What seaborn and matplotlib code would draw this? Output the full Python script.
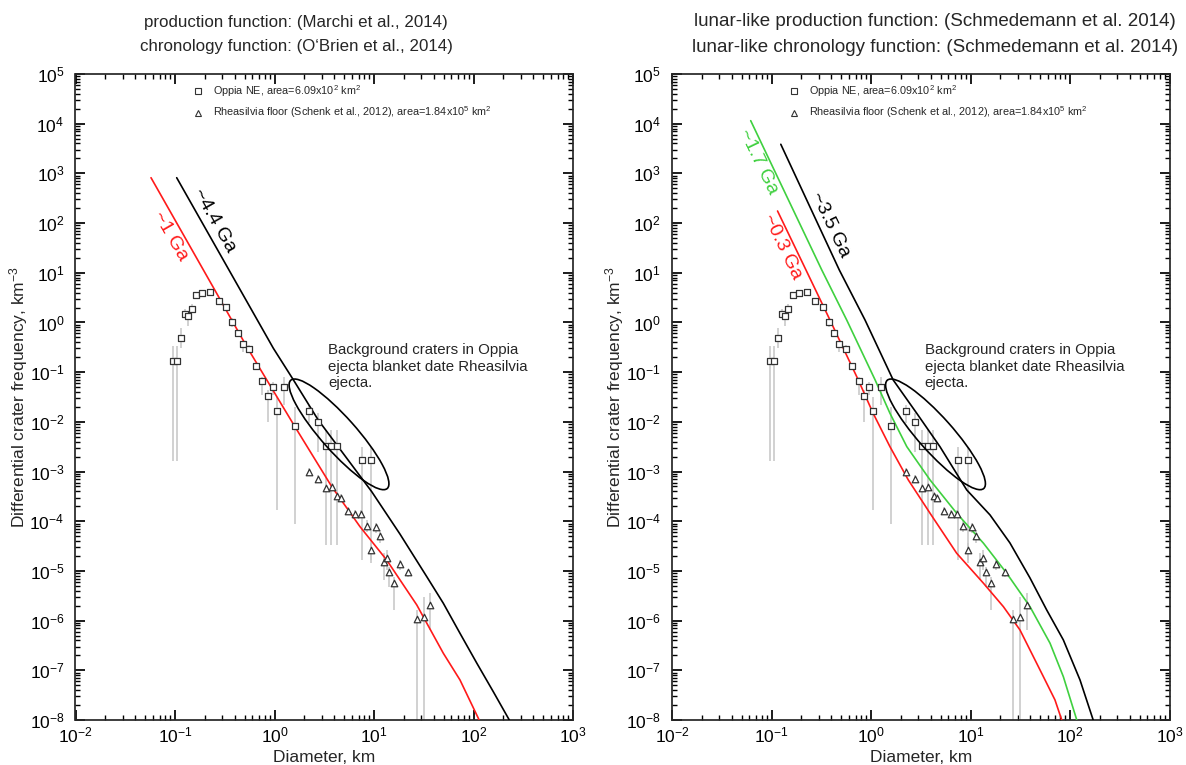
import numpy as np
import matplotlib
matplotlib.use("Agg")
import matplotlib.pyplot as plt
import seaborn as sns
from matplotlib.ticker import NullFormatter, LogFormatterMathtext, FixedLocator
from matplotlib.lines import Line2D
from matplotlib.patches import Ellipse
from matplotlib.transforms import ScaledTranslation

# ---------------- data ----------------
# Oppia NE crater counts (differential frequency, km^-3)
oppia_d = [0.0962, 0.105, 0.116, 0.127, 0.136, 0.147, 0.163, 0.187, 0.225, 0.275,
           0.326, 0.377, 0.427, 0.479, 0.555, 0.647, 0.753, 0.855, 0.955, 1.05,
           1.25, 1.59, 2.24, 2.75, 3.27, 3.70, 4.22, 7.52, 9.40]
oppia_n = [0.166, 0.166, 0.494, 1.50, 1.35, 1.85, 3.57, 3.98, 4.11, 2.71,
           2.05, 1.02, 0.607, 0.369, 0.297, 0.133, 0.0675, 0.0332, 0.0499, 0.0166,
           0.0499, 0.00839, 0.0166, 0.0101, 0.00332, 0.00332, 0.00332, 0.00169, 0.00169]
oppia_hi = [0.336, 0.336, 0.764, 1.85, 1.57, 2.36, 4.11, 4.5, 4.6, 3.0,
            2.3, 1.22, 0.70, 0.43, 0.35, 0.155, 0.081, 0.0438, 0.0644, 0.0321,
            0.0789, 0.0202, 0.0219, 0.0149, 0.00687, 0.00687, 0.00687, 0.00317, 0.00317]
oppia_lo = [0.00166, 0.00166, 0.303, 1.22, 0.851, 1.53, 3.11, 3.5, 3.6, 2.4,
            1.8, 0.82, 0.52, 0.26, 0.25, 0.111, 0.035, 0.0101, 0.0347, 0.000169,
            0.0219, 0.0000871, 0.00938, 0.00251, 0.0000334, 0.0000334, 0.0000334,
            0.0000166, 0.0000166]

# Rheasilvia floor (Schenk et al., 2012)
rhea_d = [2.24, 2.75, 3.27, 3.76, 4.28, 4.62, 5.45, 6.44, 7.40, 8.45, 9.40,
          10.4, 11.4, 12.6, 13.4, 14.3, 15.9, 18.1, 22.0, 26.9, 31.6, 36.6]
rhea_n = [9.68e-4, 7.10e-4, 4.61e-4, 4.97e-4, 3.23e-4, 2.90e-4, 1.63e-4, 1.38e-4,
          1.40e-4, 8.17e-5, 2.65e-5, 7.67e-5, 5.06e-5, 1.50e-5, 1.80e-5, 9.68e-6,
          5.74e-6, 1.38e-5, 9.55e-6, 1.10e-6, 1.20e-6, 2.07e-6]
rhea_hi = [1.16e-3, 8.5e-4, 5.5e-4, 6.0e-4, 3.9e-4, 3.5e-4, 1.95e-4, 1.65e-4,
           1.68e-4, 1.06e-4, 3.61e-5, 9.12e-5, 6.68e-5, 2.27e-5, 2.65e-5, 1.22e-5,
           7.67e-6, 1.66e-5, 1.05e-5, 1.6e-6, 3.0e-6, 3.56e-6]
rhea_lo = [8.1e-4, 5.9e-4, 3.85e-4, 4.1e-4, 2.7e-4, 2.4e-4, 1.36e-4, 1.15e-4,
           1.17e-4, 6.1e-5, 1.43e-5, 5.74e-5, 3.66e-5, 6.59e-6, 1.05e-5, 4.83e-6,
           1.64e-6, 1.05e-5, 7.57e-6, 1e-9, 1e-9, 6.50e-7]

# Model isochrons, left panel (Marchi PF / O'Brien CF)
marchi_1ga_d = [0.0574, 0.262, 0.526, 1.58, 3.76, 7.23, 13.4, 26.9, 49.7, 73.1, 114]
marchi_1ga_n = [818, 3.87, 0.326, 8.39e-3, 4.97e-4, 7.78e-5, 1.66e-5, 2.07e-6,
                2.21e-7, 6.41e-8, 1e-8]
marchi_44ga_d = [0.104, 0.973, 1.55, 2.75, 9.48, 18.2, 33.9, 49.7, 73.1, 108, 158, 229]
marchi_44ga_n = [818, 0.303, 0.0697, 0.0109, 3.94e-4, 5.55e-5, 7.67e-6, 2.24e-6,
                 5.57e-7, 1.39e-7, 3.72e-8, 1e-8]

# Model isochrons, right panel (lunar-like PF / CF)
lunar_03ga_d = [0.115, 0.222, 0.387, 0.745, 1.05, 1.55, 2.37, 3.92, 7.26, 13.5,
                21.4, 31.4, 54.0, 70.6, 82.6]
lunar_03ga_n = [175, 11.4, 1.12, 0.0697, 0.0149, 3.17e-3, 6.78e-4, 1.45e-4, 2.27e-5,
                5.65e-6, 1.91e-6, 6.50e-7, 7.46e-8, 2.54e-8, 1e-8]
lunar_17ga_d = [0.0618, 0.320, 0.570, 1.10, 1.55, 2.29, 3.92, 7.26, 13.5, 23.1,
                39.6, 63.0, 85.7, 117]
lunar_17ga_n = [11500, 11.4, 1.12, 0.0697, 0.0149, 3.17e-3, 6.78e-4, 1.45e-4,
                3.61e-5, 8.99e-6, 1.91e-6, 3.51e-7, 7.46e-8, 1e-8]
lunar_35ga_d = [0.124, 0.480, 0.871, 1.67, 2.88, 4.93, 9.16, 15.7, 24.9, 39.6,
                58.3, 85.7, 126, 171]
lunar_35ga_n = [3850, 11.4, 1.12, 0.0697, 0.0149, 3.17e-3, 4.27e-4, 1.34e-4,
                3.66e-5, 7.23e-6, 1.64e-6, 4.09e-7, 6.41e-8, 1e-8]

x_ticks = [1e-2, 1e-1, 1e0, 1e1, 1e2, 1e3]
y_ticks = [10.0 ** k for k in range(-8, 6)]

titles_left = ["production function: (Marchi et al., 2014)",
               "chronology function: (O\u2018Brien et al., 2014)"]
titles_right = ["lunar-like production function: (Schmedemann et al. 2014)",
                "lunar-like chronology function: (Schmedemann et al. 2014)"]
legend_labels = ["Oppia NE, area=6.09x10$^2$ km$^2$",
                 "Rheasilvia floor (Schenk et al., 2012), area=1.84x10$^5$ km$^2$"]
note_text = "Background craters in Oppia\nejecta blanket date Rheasilvia\nejecta."

# ---------------- style ----------------
sns.set_theme(style="ticks")
plt.rcParams['font.family'] = ['Liberation Sans', 'DejaVu Sans']
plt.rcParams['mathtext.fontset'] = 'custom'
plt.rcParams['mathtext.rm'] = 'Liberation Sans'
plt.rcParams['mathtext.it'] = 'Liberation Sans:italic'
plt.rcParams['mathtext.default'] = 'regular'
plt.rcParams.update({
    'xtick.direction': 'in', 'ytick.direction': 'in',
    'xtick.top': True, 'ytick.right': True,
    'xtick.major.size': 7, 'ytick.major.size': 7,
    'xtick.minor.size': 3.5, 'ytick.minor.size': 3.5,
    'xtick.color': 'black', 'ytick.color': 'black',
    'xtick.labelsize': 12.5, 'ytick.labelsize': 12.5,
    'xtick.major.pad': 4, 'ytick.major.pad': 8,
})

fig = plt.figure(figsize=(11.86, 7.65), dpi=100)
W, H = 1186.0, 765.0
ax_l = fig.add_axes([75.5 / W, 1 - 720 / H, 497.5 / W, 646 / H])
ax_r = fig.add_axes([672 / W, 1 - 720 / H, 497.5 / W, 646 / H])

RED = '#ff1a1a'
GREEN = '#3fd03f'
BAR = '#c9c9c9'

minor_vals = [m * 10.0 ** k for k in range(-9, 6) for m in range(2, 10)]


def build_panel(ax, curves):
    ax.set_xscale('log')
    ax.set_yscale('log')
    sns.scatterplot(x=oppia_d, y=oppia_n, marker='s', s=22, color='white',
                    edgecolor='#333333', linewidth=0.9, ax=ax, zorder=4, legend=False)
    sns.scatterplot(x=rhea_d, y=rhea_n, marker='^', s=22, color='white',
                    edgecolor='#333333', linewidth=0.9, ax=ax, zorder=4, legend=False)
    ax.set_xlim(1e-2, 1e3)
    ax.set_ylim(1e-8, 1e5)
    ax.xaxis.set_major_locator(FixedLocator(x_ticks))
    ax.yaxis.set_major_locator(FixedLocator(y_ticks))
    ax.xaxis.set_minor_locator(FixedLocator(minor_vals))
    ax.yaxis.set_minor_locator(FixedLocator(minor_vals))
    ax.xaxis.set_minor_formatter(NullFormatter())
    ax.yaxis.set_minor_formatter(NullFormatter())
    ax.xaxis.set_major_formatter(LogFormatterMathtext())
    ax.yaxis.set_major_formatter(LogFormatterMathtext())

    # error bars
    ax.vlines(oppia_d, oppia_lo, oppia_hi, color=BAR, lw=1.2, zorder=1)
    ax.vlines(rhea_d, rhea_lo, rhea_hi, color=BAR, lw=1.2, zorder=1)

    # isochrons
    for d, n, c in curves:
        sns.lineplot(x=d, y=n, sort=False, estimator=None, color=c, lw=1.2, ax=ax, zorder=3)

    # ellipse around the background craters
    trans = fig.dpi_scale_trans + ScaledTranslation(4.45, 5.6e-3, ax.transData)
    ell = Ellipse((0, 0), 1.45, 0.345, angle=-48.3, transform=trans,
                  fill=False, edgecolor='black', lw=1.2, zorder=5)
    ax.add_artist(ell)
    ax.text(0.508, 0.583, note_text, transform=ax.transAxes, ha='left', va='top',
            fontsize=10.8, linespacing=1.2)

    handles = [Line2D([], [], ls='none', marker='s', ms=4, mfc='white', mec='#333333', mew=0.8),
               Line2D([], [], ls='none', marker='^', ms=4, mfc='white', mec='#333333', mew=0.8)]
    ax.legend(handles, legend_labels, loc='upper left', bbox_to_anchor=(0.226, 0.993),
              frameon=False, fontsize=7.8, handlelength=1.0, handletextpad=0.9,
              labelspacing=0.55, borderaxespad=0)

    ax.set_xlim(1e-2, 1e3)
    ax.set_ylim(1e-8, 1e5)
    ax.set_xlabel('Diameter, km', fontsize=12.5, labelpad=3)
    ax.set_ylabel('Differential crater frequency, km$^{-3}$', fontsize=12.5)
    ax.yaxis.set_label_coords(-0.092, 0.5)


build_panel(ax_l, [(marchi_1ga_d, marchi_1ga_n, RED),
                   (marchi_44ga_d, marchi_44ga_n, 'black')])
build_panel(ax_r, [(lunar_03ga_d, lunar_03ga_n, RED),
                   (lunar_17ga_d, lunar_17ga_n, GREEN),
                   (lunar_35ga_d, lunar_35ga_n, 'black')])

# isochron labels
ax_l.text(0.278, 0.774, '~4.4 Ga', transform=ax_l.transAxes, rotation=-60.5,
          ha='center', va='center', fontsize=14, color='black')
ax_l.text(0.190, 0.749, '~1 Ga', transform=ax_l.transAxes, rotation=-60,
          ha='center', va='center', fontsize=14, color=RED)
ax_r.text(0.173, 0.864, '~1.7 Ga', transform=ax_r.transAxes, rotation=-64.3,
          ha='center', va='center', fontsize=14, color=GREEN)
ax_r.text(0.221, 0.732, '~0.3 Ga', transform=ax_r.transAxes, rotation=-64.4,
          ha='center', va='center', fontsize=14, color=RED)
ax_r.text(0.318, 0.766, '~3.5 Ga', transform=ax_r.transAxes, rotation=-64.4,
          ha='center', va='center', fontsize=14, color='black')

# titles (two lines each)
fig.text(296 / W, 1 - 22 / H, titles_left[0], ha='center', va='center', fontsize=12.2)
fig.text(296 / W, 1 - 47 / H, titles_left[1], ha='center', va='center', fontsize=12.2)
fig.text(935 / W, 1 - 22 / H, titles_right[0], ha='center', va='center', fontsize=13.5)
fig.text(935 / W, 1 - 47 / H, titles_right[1], ha='center', va='center', fontsize=13.5)

fig.savefig('out.png', dpi=100)
